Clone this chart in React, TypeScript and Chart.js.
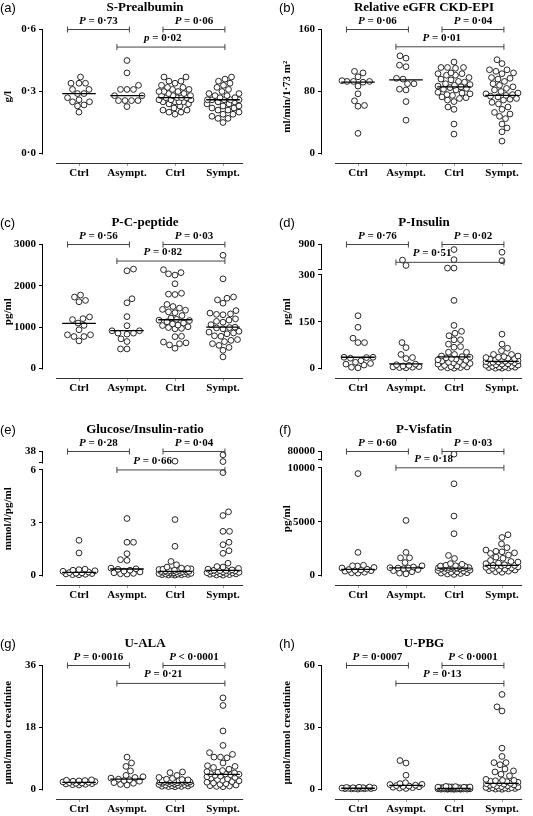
import React, { useEffect, useRef } from "react";
import { Chart, registerables } from "chart.js";

Chart.register(...registerables);

const SERIF = '"Liberation Serif", "Times New Roman", serif';
const SANS = '"Liberation Sans", Arial, sans-serif';

// ---------- shared ----------
const categories = ["Ctrl", "Asympt.", "Ctrl", "Sympt."];
const categoryPositions = [1, 2, 3, 4];
const bracketFrom = [0.76, 2.75, 1.79];
const bracketTo = [2.05, 4.04, 4.04];

// ---------- (a) S-Prealbumin ----------
const aCtrl = [0.37, 0.34, 0.34, 0.34, 0.31, 0.31, 0.29, 0.29, 0.27, 0.26, 0.25, 0.25, 0.235, 0.23, 0.2];
const aAsympt = [0.45, 0.39, 0.33, 0.31, 0.31, 0.31, 0.28, 0.28, 0.256, 0.256, 0.256, 0.256, 0.227];
const aCtrl2 = [0.37, 0.37, 0.35, 0.35, 0.34, 0.33, 0.32, 0.32, 0.31, 0.31, 0.3, 0.3, 0.3, 0.29, 0.29, 0.28, 0.28, 0.28, 0.27, 0.27, 0.27, 0.27, 0.26, 0.26, 0.26, 0.25, 0.25, 0.25, 0.25, 0.24, 0.24, 0.23, 0.22, 0.21, 0.21, 0.2, 0.2, 0.19];
const aSympt = [0.37, 0.36, 0.35, 0.34, 0.33, 0.32, 0.31, 0.3, 0.29, 0.29, 0.28, 0.28, 0.27, 0.27, 0.26, 0.26, 0.26, 0.26, 0.26, 0.25, 0.25, 0.24, 0.24, 0.23, 0.23, 0.22, 0.22, 0.21, 0.21, 0.2, 0.19, 0.19, 0.18, 0.17, 0.17, 0.15];
const aMedians = [0.29, 0.28, 0.27, 0.26];
const aTicks = [0, 0.3, 0.6];
const aTickLabels = ["0·0", "0·3", "0·6"];
const aPLabels = ["P = 0·73", "P = 0·06", "p = 0·02"];
const aPLevels = [0.6, 0.6, 0.515];

// ---------- (b) Relative eGFR ----------
const bCtrl = [106, 104, 99, 94, 93, 93, 93, 92, 87, 77, 68, 62, 61, 26];
const bAsympt = [126, 123, 114, 112, 97, 96, 90, 90, 83, 82, 67, 43];
const bCtrl2 = [118, 111, 111, 111, 110, 104, 103, 103, 101, 101, 98, 96, 95, 93, 92, 90, 89, 88, 87, 86, 85, 84, 83, 82, 79, 78, 77, 76, 75, 73, 72, 71, 69, 67, 60, 57, 38, 25];
const bSympt = [121, 116, 108, 108, 106, 104, 103, 98, 97, 96, 93, 90, 88, 86, 84, 82, 80, 78, 77, 76, 75, 74, 73, 71, 70, 69, 66, 64, 60, 57, 53, 51, 48, 45, 38, 33, 28, 16];
const bMedians = [92, 95, 86, 75];
const bTicks = [0, 80, 160];
const bTickLabels = ["0", "80", "160"];
const bPLabels = ["P = 0·06", "P = 0·04", "P = 0·01"];
const bPLevels = [160, 160, 137.7];

// ---------- (c) P-C-peptide ----------
const cCtrl = [1777, 1728, 1647, 1614, 1247, 1206, 1182, 1100, 1043, 937, 815, 815, 774, 774, 668];
const cAsympt = [2405, 2364, 1688, 1590, 1255, 1035, 913, 913, 856, 856, 831, 717, 652, 473, 473];
const cCtrl2 = [2390, 2320, 2290, 2260, 2050, 1820, 1800, 1790, 1550, 1500, 1460, 1430, 1410, 1370, 1350, 1280, 1220, 1190, 1170, 1160, 1130, 1100, 1080, 1050, 1040, 1010, 990, 970, 960, 780, 770, 640, 620, 600, 570, 490];
const cSympt = [2740, 2170, 1730, 1700, 1660, 1580, 1400, 1340, 1320, 1310, 1300, 1200, 1170, 1140, 1120, 1060, 1000, 990, 980, 960, 900, 880, 860, 840, 790, 780, 700, 680, 650, 600, 560, 510, 440, 280];
const cMedians = [1090, 915, 1180, 1000];
const cTicks = [0, 1000, 2000, 3000];
const cTickLabels = ["0", "1000", "2000", "3000"];
const cPLabels = ["P = 0·56", "P = 0·03", "P = 0·82"];
const cPLevels = [3000, 3000, 2600];

// ---------- (d) P-Insulin (broken axis) ----------
const dCtrl = [169, 132, 97, 83, 83, 36, 36, 35, 33, 25, 20, 16, 14, 11, 4, 2];
const dAsympt = [520, 390, 83, 67, 45, 35, 32, 14, 12, 10, 8, 6, 5, 4, 3, 2];
const dCtrl2 = [777, 530, 325, 325, 218, 138, 119, 113, 105, 92, 92, 78, 70, 68, 52, 52, 45, 40, 38, 36, 34, 32, 30, 28, 26, 24, 22, 20, 18, 16, 14, 12, 10, 8, 6, 5, 4, 3, 2, 1];
const dSympt = [711, 505, 110, 78, 65, 57, 45, 45, 40, 38, 36, 35, 33, 31, 30, 28, 27, 25, 24, 23, 22, 21, 20, 18, 17, 15, 14, 12, 11, 10, 8, 7, 6, 5, 4, 3, 2, 1, 1];
const dMedians = [36, 15, 37, 23];
const dTicks = [0, 150, 300, 900];
const dTickLabels = ["0", "150", "300", "900"];
const dPLabels = ["P = 0·76", "P = 0·02", "P = 0·51"];
const dPLevels = [900, 900, 465];

// ---------- (e) Glucose/Insulin-ratio (broken axis) ----------
const eCtrl = [2.0, 1.28, 0.36, 0.33, 0.3, 0.27, 0.24, 0.2, 0.17, 0.15, 0.13, 0.11, 0.09, 0.07, 0.05, 0.04];
const eAsympt = [3.24, 1.89, 1.89, 1.24, 0.9, 0.86, 0.42, 0.38, 0.35, 0.3, 0.25, 0.2, 0.15, 0.12, 0.1, 0.08];
const eCtrl2 = [10, 3.18, 1.66, 0.8, 0.61, 0.48, 0.42, 0.4, 0.38, 0.36, 0.34, 0.32, 0.3, 0.29, 0.28, 0.26, 0.25, 0.24, 0.23, 0.22, 0.21, 0.2, 0.19, 0.18, 0.16, 0.15, 0.14, 0.12, 0.11, 0.1, 0.09, 0.08, 0.07, 0.06, 0.05, 0.04, 0.03, 0.02];
const eSympt = [28.3, 8.9, 5.85, 3.62, 3.41, 2.51, 2.51, 1.89, 1.75, 1.41, 1.26, 0.7, 0.51, 0.48, 0.4, 0.36, 0.32, 0.3, 0.29, 0.28, 0.26, 0.25, 0.24, 0.22, 0.2, 0.18, 0.16, 0.15, 0.13, 0.12, 0.1, 0.09, 0.07, 0.05, 0.03, 0.02];
const eMedians = [0.18, 0.37, 0.23, 0.29];
const eTicks = [0, 3, 6, 38];
const eTickLabels = ["0", "3", "6", "38"];
const ePLabels = ["P = 0·28", "P = 0·04", "P = 0·66"];
const ePLevels = [38, 38, 6];

// ---------- (f) P-Visfatin (broken axis) ----------
const fCtrl = [9464, 2145, 950, 900, 880, 750, 700, 590, 560, 520, 480, 450, 400, 300, 250, 220];
const fAsympt = [5110, 2145, 1640, 1640, 1200, 900, 790, 725, 700, 690, 630, 550, 450, 350, 220, 158];
const fCtrl2 = [58000, 8517, 5520, 3880, 1861, 1577, 1100, 1040, 950, 900, 880, 850, 820, 800, 780, 760, 740, 720, 700, 690, 680, 660, 640, 620, 600, 570, 540, 500, 460, 420, 380, 340, 300, 260, 220, 180, 140, 100];
const fSympt = [3785, 3530, 2934, 2587, 2366, 2250, 2200, 2100, 2050, 1900, 1700, 1600, 1400, 1300, 1250, 1150, 1100, 1000, 950, 940, 920, 900, 880, 850, 800, 750, 700, 650, 600, 550, 500, 450, 400, 350, 300];
const fMedians = [575, 712, 694, 946];
const fTicks = [0, 5000, 10000, 80000];
const fTickLabels = ["0", "5000", "10000", "80000"];
const fPLabels = ["P = 0·60", "P = 0·03", "P = 0·18"];
const fPLevels = [80000, 80000, 10000];

// ---------- (g) U-ALA ----------
const gCtrl = [2.8, 2.7, 2.6, 2.5, 2.4, 2.3, 2.2, 2.1, 2.0, 1.9, 1.8, 1.7, 1.6, 1.5, 1.4, 1.3];
const gAsympt = [9.4, 7.7, 6.7, 5.4, 4.1, 3.7, 3.5, 3.3, 3.0, 2.8, 2.6, 2.4, 2.0, 1.8, 1.5, 1.3];
const gCtrl2 = [5.1, 4.9, 4.1, 3.5, 3.2, 3.0, 2.9, 2.8, 2.7, 2.6, 2.5, 2.4, 2.35, 2.3, 2.2, 2.15, 2.1, 2.05, 2.0, 1.95, 1.9, 1.85, 1.8, 1.7, 1.6, 1.5, 1.45, 1.4, 1.3, 1.2, 1.1, 1.0, 0.95, 0.9, 0.85, 0.8];
const gSympt = [26.6, 24.4, 17.0, 12.8, 10.7, 10.2, 9.4, 9.4, 9.2, 7.7, 6.9, 6.7, 6.4, 5.9, 5.5, 5.2, 5.0, 4.8, 4.6, 4.5, 4.4, 4.3, 4.1, 3.9, 3.7, 3.5, 3.3, 3.1, 2.9, 2.7, 2.5, 2.3, 2.1, 1.9, 1.7, 1.5, 1.3, 1.1, 1.0, 0.9, 0.8];
const gMedians = [2.05, 3.0, 2.0, 4.4];
const gTicks = [0, 18, 36];
const gTickLabels = ["0", "18", "36"];
const gPLabels = ["P = 0·0016", "P < 0·0001", "P = 0·21"];
const gPLevels = [36, 36, 30.8];

// ---------- (h) U-PBG ----------
const hCtrl = [1.2, 1.1, 1.0, 0.9, 0.85, 0.8, 0.7, 0.65, 0.6, 0.55, 0.5, 0.45, 0.4, 0.35, 0.3, 0.2];
const hAsympt = [14, 12.8, 6.9, 3.3, 2.8, 2.5, 2.4, 2.1, 1.9, 1.7, 1.5, 1.3, 1.1, 0.9, 0.7, 0.5];
const hCtrl2 = [1.5, 1.4, 1.3, 1.25, 1.2, 1.15, 1.1, 1.05, 1.0, 0.95, 0.9, 0.85, 0.8, 0.75, 0.7, 0.65, 0.6, 0.55, 0.5, 0.48, 0.45, 0.42, 0.4, 0.38, 0.35, 0.32, 0.3, 0.28, 0.25, 0.22, 0.2, 0.18, 0.15, 0.12, 0.1, 0.08];
const hSympt = [46, 40, 38, 20, 16, 13, 13, 12, 9.9, 9.0, 8.5, 7.4, 6.6, 4.9, 4.4, 4.4, 4.2, 4.0, 3.8, 3.5, 3.2, 3.0, 2.8, 2.6, 2.4, 2.2, 2.0, 1.8, 1.6, 1.4, 1.2, 1.0, 0.9, 0.8, 0.7, 0.6, 0.5, 0.4, 0.3, 0.2, 0.1];
const hMedians = [0.6, 2.0, 0.5, 3.0];
const hTicks = [0, 30, 60];
const hTickLabels = ["0", "30", "60"];
const hPLabels = ["P = 0·0007", "P < 0·0001", "P = 0·13"];
const hPLevels = [60, 60, 51.3];

// ---------- layout ----------
const CANVAS_W = 255;
const CANVAS_H = 184;
const AREA_TOP = 29.5;
const Y_AXIS_W = 43;
const X_AXIS_H = 20;
const RIGHT_PAD = 8;
const ZERO_GAP = 10.5;
const COL_X = [0, 279];
const ROW_Y = [0, 215, 422, 636];

type Break = { lowerMax: number; gap: number; upperMin: number; upperMax: number; span: number };

type Panel = {
  letter: string;
  title: string;
  yTitle: string;
  groups: number[][];
  medians: number[];
  ticks: number[];
  tickLabels: string[];
  pLabels: string[];
  pLevels: number[];
  labelShift: number[];
  brk?: Break;
  col: number;
  row: number;
};

const panels: Panel[] = [
  { letter: "(a)", title: "S-Prealbumin", yTitle: "g/l", groups: [aCtrl, aAsympt, aCtrl2, aSympt], medians: aMedians, ticks: aTicks, tickLabels: aTickLabels, pLabels: aPLabels, pLevels: aPLevels, labelShift: [0, 0, -0.17], col: 0, row: 0 },
  { letter: "(b)", title: "Relative eGFR CKD-EPI", yTitle: "ml/min/1·73 m²", groups: [bCtrl, bAsympt, bCtrl2, bSympt], medians: bMedians, ticks: bTicks, tickLabels: bTickLabels, pLabels: bPLabels, pLevels: bPLevels, labelShift: [0, 0, -0.17], col: 1, row: 0 },
  { letter: "(c)", title: "P-C-peptide", yTitle: "pg/ml", groups: [cCtrl, cAsympt, cCtrl2, cSympt], medians: cMedians, ticks: cTicks, tickLabels: cTickLabels, pLabels: cPLabels, pLevels: cPLevels, labelShift: [0, 0, -0.17], col: 0, row: 1 },
  { letter: "(d)", title: "P-Insulin", yTitle: "pg/ml", groups: [dCtrl, dAsympt, dCtrl2, dSympt], medians: dMedians, ticks: dTicks, tickLabels: dTickLabels, pLabels: dPLabels, pLevels: dPLevels, labelShift: [0, 0, -0.37], brk: { lowerMax: 300, gap: 18.3, upperMin: 300, upperMax: 900, span: 78.8 }, col: 1, row: 1 },
  { letter: "(e)", title: "Glucose/Insulin-ratio", yTitle: "mmol/l/pg/ml", groups: [eCtrl, eAsympt, eCtrl2, eSympt], medians: eMedians, ticks: eTicks, tickLabels: eTickLabels, pLabels: ePLabels, pLevels: ePLevels, labelShift: [0, 0, -0.38], brk: { lowerMax: 6, gap: 0.42, upperMin: 6, upperMax: 38, span: 0.63 }, col: 0, row: 2 },
  { letter: "(f)", title: "P-Visfatin", yTitle: "pg/ml", groups: [fCtrl, fAsympt, fCtrl2, fSympt], medians: fMedians, ticks: fTicks, tickLabels: fTickLabels, pLabels: fPLabels, pLevels: fPLevels, labelShift: [0, 0, -0.34], brk: { lowerMax: 10000, gap: 726, upperMin: 10000, upperMax: 80000, span: 789 }, col: 1, row: 2 },
  { letter: "(g)", title: "U-ALA", yTitle: "µmol/mmol creatinine", groups: [gCtrl, gAsympt, gCtrl2, gSympt], medians: gMedians, ticks: gTicks, tickLabels: gTickLabels, pLabels: gPLabels, pLevels: gPLevels, labelShift: [0, 0, -0.16], col: 0, row: 3 },
  { letter: "(h)", title: "U-PBG", yTitle: "µmol/mmol creatinine", groups: [hCtrl, hAsympt, hCtrl2, hSympt], medians: hMedians, ticks: hTicks, tickLabels: hTickLabels, pLabels: hPLabels, pLevels: hPLevels, labelShift: [0, 0, -0.16], col: 1, row: 3 },
];

function toDisplay(v: number, brk?: Break): number {
  if (!brk || v <= brk.lowerMax) return v;
  return brk.lowerMax + brk.gap + ((v - brk.upperMin) / (brk.upperMax - brk.upperMin)) * brk.span;
}

function swarm(ys: number[], diameter: number, maxHalf: number): number[] {
  const placed: { x: number; y: number }[] = [];
  const out: number[] = [];
  ys.forEach((y, idx) => {
    const cands: number[] = [0];
    for (let s = 0.5; s <= maxHalf; s += 0.5) {
      if (idx % 2 === 0) cands.push(s, -s);
      else cands.push(-s, s);
    }
    let best = 0;
    let bestScore = -Infinity;
    for (const c of cands) {
      let minD = Infinity;
      for (const p of placed) {
        const d = Math.hypot(p.x - c, p.y - y);
        if (d < minD) minD = d;
      }
      if (minD >= diameter) {
        best = c;
        break;
      }
      if (minD > bestScore + 1e-6) {
        bestScore = minD;
        best = c;
      }
    }
    placed.push({ x: best, y });
    out.push(best);
  });
  return out;
}

function PanelChart({ panel }: { panel: Panel }) {
  const ref = useRef<HTMLCanvasElement | null>(null);

  useEffect(() => {
    const canvas = ref.current;
    if (!canvas) return;
    const brk = panel.brk;
    const top = toDisplay(panel.ticks[panel.ticks.length - 1], brk);
    const pxPerUnit = (CANVAS_H - X_AXIS_H - ZERO_GAP - AREA_TOP) / top;
    const yMin = -ZERO_GAP / pxPerUnit;

    const tickVals = panel.ticks.map((t) => toDisplay(t, brk));
    const tickLabs = [...panel.tickLabels];
    if (brk) {
      tickVals.push(brk.lowerMax + brk.gap);
      tickLabs.push("");
    }
    const segments: number[][] = brk
      ? [
          [0, brk.lowerMax],
          [brk.lowerMax + brk.gap, top],
        ]
      : [[0, top]];

    const medianSets = panel.medians.map((m, i) => ({
      type: "line" as const,
      data: [
        { x: categoryPositions[i] - 0.35, y: toDisplay(m, brk) },
        { x: categoryPositions[i] + 0.35, y: toDisplay(m, brk) },
      ],
      borderColor: "#000",
      borderWidth: 1.3,
      pointRadius: 0,
      clip: false as const,
      order: 0,
    }));

    const bracketSets = panel.pLevels.map((lvl, i) => ({
      type: "line" as const,
      data: [
        { x: bracketFrom[i], y: toDisplay(lvl, brk) },
        { x: bracketTo[i], y: toDisplay(lvl, brk) },
      ],
      borderColor: "#444",
      borderWidth: 1,
      pointStyle: "line" as const,
      pointRadius: 3,
      pointRotation: 90,
      pointBorderColor: "#444",
      pointBorderWidth: 1,
      clip: false as const,
      order: 1,
    }));

    const pointSets = panel.groups.map((g, i) => ({
      type: "scatter" as const,
      data: g.map((v) => ({ x: categoryPositions[i], y: toDisplay(v, brk) })),
      pointRadius: 2.9,
      pointBorderWidth: 0.9,
      pointBackgroundColor: "#fff",
      pointBorderColor: "#111",
      backgroundColor: "#fff",
      borderColor: "#111",
      showLine: false,
      clip: false as const,
      order: 2,
    }));

    const decor = {
      id: "decor",
      afterDraw(chart: any) {
        const ctx = chart.ctx as CanvasRenderingContext2D;
        const xs = chart.scales.x;
        const ys = chart.scales.y;
        const area = chart.chartArea;
        ctx.save();
        // y axis segments
        ctx.strokeStyle = "#000";
        ctx.lineWidth = 1;
        const ax = Math.round(area.left) - 0.5;
        segments.forEach(([a, b]) => {
          ctx.beginPath();
          ctx.moveTo(ax, Math.round(ys.getPixelForValue(a)) + 0.5);
          ctx.lineTo(ax, Math.round(ys.getPixelForValue(b)) - 0.5);
          ctx.stroke();
        });
        // x axis line
        ctx.strokeStyle = "#333";
        const lineY = Math.round(area.bottom) - 0.5;
        ctx.beginPath();
        ctx.moveTo(xs.getPixelForValue(0.52), lineY);
        ctx.lineTo(xs.getPixelForValue(4.42), lineY);
        ctx.stroke();
        // title
        ctx.fillStyle = "#000";
        ctx.textBaseline = "middle";
        ctx.textAlign = "center";
        ctx.font = `bold 13px ${SERIF}`;
        ctx.fillText(panel.title, 145, 8);
        // letter
        ctx.textAlign = "left";
        ctx.font = `13px ${SANS}`;
        ctx.fillText(panel.letter, 0, 8);
        // p labels
        ctx.textBaseline = "alphabetic";
        panel.pLabels.forEach((lab, i) => {
          const first = lab.charAt(0);
          const rest = lab.slice(1);
          ctx.font = `italic bold 11px ${SERIF}`;
          const w1 = ctx.measureText(first).width;
          ctx.font = `bold 11px ${SERIF}`;
          const w2 = ctx.measureText(rest).width;
          const cx = xs.getPixelForValue((bracketFrom[i] + bracketTo[i]) / 2 + panel.labelShift[i]);
          const y = ys.getPixelForValue(toDisplay(panel.pLevels[i], brk)) - 6;
          const x0 = cx - (w1 + w2) / 2;
          ctx.font = `italic bold 11px ${SERIF}`;
          ctx.fillText(first, x0, y);
          ctx.font = `bold 11px ${SERIF}`;
          ctx.fillText(rest, x0 + w1, y);
        });
        ctx.restore();
      },
    };

    const chart = new Chart(canvas, {
      type: "scatter",
      data: { datasets: [...medianSets, ...bracketSets, ...pointSets] as any },
      options: {
        responsive: false,
        animation: false,
        devicePixelRatio: 1,
        events: [],
        layout: { padding: { top: AREA_TOP, right: RIGHT_PAD, left: 0, bottom: 0 } },
        plugins: { legend: { display: false }, tooltip: { enabled: false }, title: { display: false } },
        scales: {
          x: {
            type: "linear",
            min: 0.25,
            max: 4.5,
            afterBuildTicks: (axis: any) => {
              axis.ticks = categoryPositions.map((v) => ({ value: v }));
            },
            afterFit: (axis: any) => {
              axis.height = X_AXIS_H;
            },
            ticks: {
              autoSkip: false,
              maxRotation: 0,
              padding: 1,
              color: "#000",
              font: { family: SERIF, size: 11, weight: "bold" },
              callback: (value: any, index: number) => categories[index],
            },
            grid: { display: true, drawOnChartArea: false, drawTicks: true, tickLength: 2, color: "#999", lineWidth: 1 },
            border: { display: false },
          },
          y: {
            type: "linear",
            min: yMin,
            max: top,
            afterBuildTicks: (axis: any) => {
              axis.ticks = tickVals.map((v) => ({ value: v }));
            },
            afterFit: (axis: any) => {
              axis.width = Y_AXIS_W;
            },
            ticks: {
              autoSkip: false,
              padding: 3,
              color: "#000",
              font: { family: SERIF, size: 11, weight: "bold" },
              callback: (value: any, index: number) => tickLabs[index],
            },
            grid: { display: true, drawOnChartArea: false, drawTicks: true, tickLength: 4, color: "#000", lineWidth: 1 },
            border: { display: false },
            title: {
              display: true,
              text: panel.yTitle,
              color: "#000",
              font: { family: SERIF, size: 11, weight: "bold" },
              padding: { top: 2, bottom: 0 },
            },
          },
        },
      } as any,
      plugins: [decor],
    });

    // arrange each group's points side by side (scatter dot plot layout)
    const xs = chart.scales.x as any;
    const ys = chart.scales.y as any;
    panel.groups.forEach((g, gi) => {
      const sorted = [...g].sort((p, q) => p - q);
      const py = sorted.map((v) => ys.getPixelForValue(toDisplay(v, brk)));
      const off = swarm(py, 6.3, 16);
      const cx = xs.getPixelForValue(categoryPositions[gi]);
      (chart.data.datasets[medianSets.length + bracketSets.length + gi] as any).data = sorted.map((v, i) => ({
        x: xs.getValueForPixel(cx + off[i]),
        y: toDisplay(v, brk),
      }));
    });
    chart.update("none");

    return () => chart.destroy();
  }, [panel]);

  return (
    <div
      style={{
        position: "absolute",
        left: COL_X[panel.col],
        top: ROW_Y[panel.row],
        width: CANVAS_W,
        height: CANVAS_H,
      }}
    >
      <canvas ref={ref} width={CANVAS_W} height={CANVAS_H} style={{ display: "block", width: CANVAS_W, height: CANVAS_H }} />
    </div>
  );
}

export default function App() {
  return (
    <div
      style={{
        position: "absolute",
        left: 0,
        top: 0,
        width: 533,
        height: 816,
        overflow: "hidden",
        background: "#fff",
      }}
    >
      {panels.map((p) => (
        <PanelChart key={p.letter} panel={p} />
      ))}
    </div>
  );
}
